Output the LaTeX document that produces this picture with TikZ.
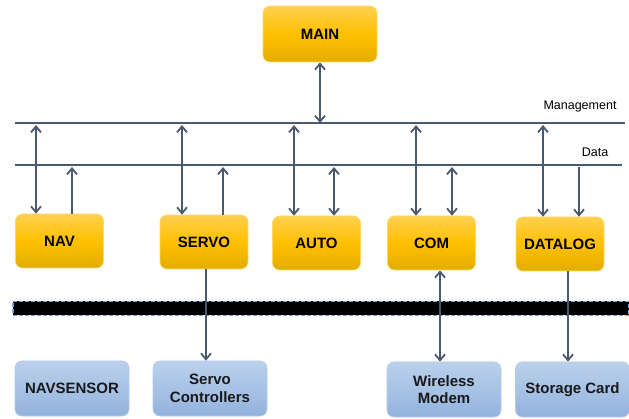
\documentclass[tikz,border=0pt]{standalone}
\usepackage{fontspec}
\setsansfont{Liberation Sans}
\usetikzlibrary{arrows.meta,calc}
\definecolor{ink}       {HTML}{4A5870}
\definecolor{amber}     {HTML}{FFC000}
\definecolor{amberhi}   {HTML}{FFD050}
\definecolor{amberlo}   {HTML}{E2AD00}
\definecolor{amberedge} {HTML}{FFD966}
\definecolor{sky}       {HTML}{A7C2E5}
\definecolor{skyhi}     {HTML}{BBD1EC}
\definecolor{skylo}     {HTML}{92B2DC}
\definecolor{skyedge}   {HTML}{B4CBE8}
\definecolor{wire}      {HTML}{6FA8DC}
\tikzset{
  >={Straight Barb[length=6pt,width=10pt]},
  every node/.style={font=\sffamily},
  % --- nodes
  mod/.style   = {rounded corners=7pt, draw=amberedge, line width=0.6pt,
                  top color=amberhi, bottom color=amberlo, middle color=amber,
                  align=center, minimum width=88pt, minimum height=54pt,
                  font=\sffamily\bfseries\fontsize{15}{17.5}\selectfont},
  dev/.style   = {mod, draw=skyedge, top color=skyhi, bottom color=skylo,
                  middle color=sky, minimum width=114pt, minimum height=55pt,
                  text=black!90},
  lbl/.style   = {font=\sffamily\fontsize{12.5}{14}\selectfont},
  hwbus/.style = {fill=black, draw=wire, dash pattern=on 4pt off 2pt,
                  line width=1.4pt, minimum width=616pt, minimum height=14pt,
                  inner sep=0pt},
  % --- edges
  bus/.style   = {draw=ink, line width=2.6pt},
  e/.style     = {->, draw=ink, line width=1.8pt},
  ebi/.style   = {<->, draw=ink, line width=1.8pt},
}
\begin{document}
\begin{tikzpicture}[x=1pt,y=-1pt]
  \useasboundingbox (0,0) rectangle (629,419);
  % buses
  \coordinate (mL) at (15,123);  \coordinate (mR) at (625,123);
  \coordinate (dL) at (15,165);  \coordinate (dR) at (622,165);
  \draw[bus] (mL) -- (mR);
  \draw[bus] (dL) -- (dR);
  \node[lbl] (mlab) at (580,107) {Management};
  \node[lbl] (dlab) at (595,152) {Data};
  \node[hwbus] (hw) at (321,308.5) {};
  % modules
  \node[mod, minimum width=114pt, minimum height=56pt] (main) at (320,34) {MAIN};
  \node[mod] (nav)   at (59.5,241)  {NAV};
  \node[mod] (servo) at (204,242)   {SERVO};
  \node[mod] (auto)  at (316.5,243) {AUTO};
  \node[mod] (com)   at (431.5,243) {COM};
  \node[mod] (dlog)  at (560,244)   {DATALOG};
  % devices
  \node[dev] (nsen)  at (72,388.5)    {NAVSENSOR};
  \node[dev] (sctl)  at (210,388.5)   {Servo\\Controllers};
  \node[dev] (modem) at (444,389.5)   {Wireless\\Modem};
  \node[dev] (card)  at (572.5,389.5) {Storage Card};
  % taps on the buses
  \foreach \n/\x in {nav/36,servo/182,auto/294,com/416,dlog/543}
    \coordinate (\n-m) at (\x,125);
  \foreach \n/\x in {nav/72,servo/223,auto/334,com/452,dlog/579}
    \coordinate (\n-d) at (\x,167);
  \draw[ebi] (main) -- (main |- mL);
  \foreach \n in {nav,servo,auto,com,dlog}
    \draw[ebi] (\n-m) -- (\n-m |- \n.north);
  \draw[e] (nav-d |- nav.north) -- (nav-d);
  \draw[e] (servo-d |- servo.north) -- (servo-d);
  \draw[ebi] (auto-d) -- (auto-d |- auto.north);
  \draw[ebi] (com-d) -- (com-d |- com.north);
  \draw[e] (dlog-d) -- (dlog-d |- dlog.north);
  % down to the devices
  \coordinate (s-out) at ([xshift=2pt]servo.south);
  \coordinate (c-out) at ([xshift=8.5pt]com.south);
  \coordinate (d-out) at ([xshift=8pt]dlog.south);
  \draw[e] (s-out) -- (s-out |- sctl.north);
  \draw[ebi] (c-out) -- (c-out |- modem.north);
  \draw[e] (d-out) -- (d-out |- card.north);
\end{tikzpicture}
\end{document}
